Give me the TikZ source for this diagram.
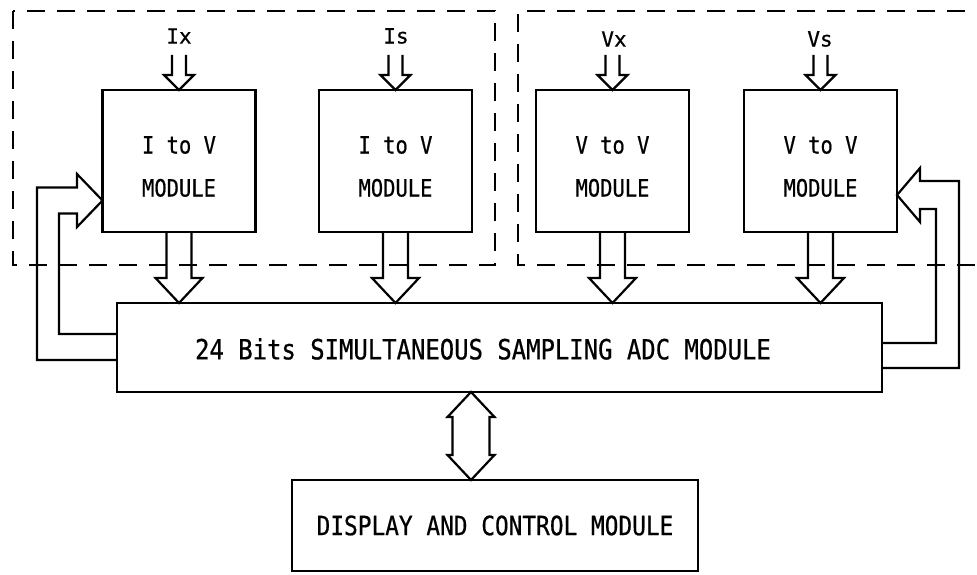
\documentclass[tikz,border=0pt]{standalone}
\usepackage{fontspec}
\newfontfamily\cadfont[FakeStretch=0.86,FakeBold=0.6]{DejaVu Sans Mono}
\newfontfamily\lblfont[FakeBold=0.6]{DejaVu Sans Mono}
\usetikzlibrary{calc}
\begin{document}
\begin{tikzpicture}[x=1pt,y=-1pt,line width=2.2pt,
  module/.style={draw,minimum width=153pt,minimum height=142pt,inner sep=0pt,outer sep=0pt},
  modtext/.style={font=\cadfont\fontsize{23.8}{43}\selectfont,align=center,inner sep=0pt},
  lbl/.style={font=\lblfont\fontsize{21}{24}\selectfont,inner sep=0pt},
  bigbox/.style={draw,inner sep=0pt,outer sep=0pt},
  blockarrow/.style={draw,line join=miter},
  dashbox/.style={line width=2pt,dash pattern=on 18pt off 12pt}]
\useasboundingbox (0,0) rectangle (977,575);
\fill[white] (0,0) rectangle (977,575);
% dashed groups
\draw[dashbox] (13,11) rectangle (495,265);
\draw[dashbox] (995,11) -- (518,11) -- (518,265) -- (995,265);
% modules
\node[module] (m1) at (179,161) {};
\node[module] (m2) at (395.5,161) {};
\node[module] (m3) at (612.5,161) {};
\node[module] (m4) at (820.5,161) {};
\node[modtext] (t1) at ([yshift=-5.5pt]m1.center) {I to V\\MODULE};
\node[modtext] (t2) at ([yshift=-5.5pt]m2.center) {I to V\\MODULE};
\node[modtext] (t3) at ([yshift=-5.5pt]m3.center) {V to V\\MODULE};
\node[modtext] (t4) at ([yshift=-5.5pt]m4.center) {V to V\\MODULE};
% input labels
\node[lbl] (l1) at (179,36) {Ix};
\node[lbl] (l2) at (396,36) {Is};
\node[lbl] (l3) at (614,39) {Vx};
\node[lbl] (l4) at (820,39) {Vs};
% ADC and display
\node[bigbox,minimum width=765pt,minimum height=89pt] (adc) at (499.5,347.5) {};
\node[font=\cadfont\fontsize{27.8}{32}\selectfont,inner sep=0pt] (adct) at (483,349) {24 Bits SIMULTANEOUS SAMPLING ADC MODULE};
\node[bigbox,minimum width=406pt,minimum height=91pt,font=\cadfont\fontsize{26.5}{30}\selectfont] (disp) at (495,525.5) {DISPLAY AND CONTROL MODULE};
% input and output arrows
\foreach \m in {m1,m2,m3,m4}{
  \draw[blockarrow] ($(\m.north)+(-7,-35)$) -- ++(0,20) -- ++(-8,0) -- (\m.north)
     -- ($(\m.north)+(15,-15)$) -- ++(-8,0) -- ++(0,-20);
  \draw[blockarrow] ($(\m.south)+(-12.5,0)$) -- ($(\m.south |- adc.north)+(-12.5,-25)$)
     -- ++(-11,0) -- (\m.south |- adc.north) -- ++(23.5,-25) -- ++(-11,0)
     -- ($(\m.south)+(12.5,0)$);
}
% left feedback
\draw[blockarrow] ($(adc.west)+(0,-13.5)$) -| (59,213.5) -- (77,213.5) -- (77,227)
   -- ($(m1.west)+(0,39.5)$) -- (77,174) -- (77,187.5) -- (37,187.5)
   |- ($(adc.west)+(0,12.5)$);
% right feedback
\draw[blockarrow] ($(adc.east)+(0,20.5)$) -| (959,181) -- (920,181) -- (920,168)
   -- ($(m4.east)+(0,34)$) -- (920,222) -- (920,209) -- (936,209)
   |- ($(adc.east)+(0,-4.5)$);
% bidirectional arrow
\coordinate (dax) at (471,0);
\draw[blockarrow] (adc.south -| dax) -- ++(23.5,25) -- ++(-5,0)
   -- ($(disp.north -| dax)+(18.5,-25)$) -- ++(5,0) -- (disp.north -| dax)
   -- ++(-23.5,-25) -- ++(5,0) -- ($(adc.south -| dax)+(-18.5,25)$) -- ++(-5,0) -- cycle;
\end{tikzpicture}
\end{document}
